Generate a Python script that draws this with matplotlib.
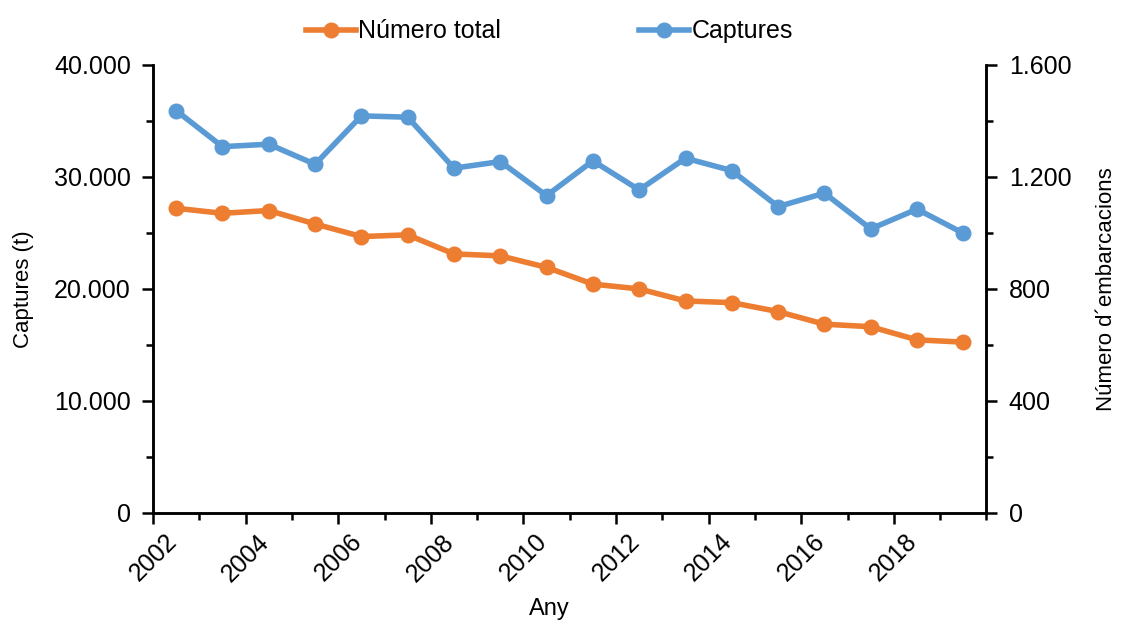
import numpy as np
import matplotlib
matplotlib.use("Agg")
import matplotlib.pyplot as plt
from matplotlib.ticker import FuncFormatter, MultipleLocator

years = list(range(2002, 2020))
captures = [35920, 32700, 32920, 31130, 35450, 35330, 30780, 31370, 28330,
            31430, 28840, 31670, 30560, 27350, 28550, 25360, 27120, 24970]
num_total = [1088, 1070, 1080, 1032, 987, 993, 925, 918, 877,
             817, 800, 757, 751, 719, 674, 665, 618, 610]
tick_years = list(range(2002, 2019, 2))

plt.rcParams['font.family'] = ['Liberation Sans', 'DejaVu Sans']

orange = '#ED7D31'
blue = '#5B9BD5'

def dot_thousands(v, pos):
    return f"{int(round(v)):,}".replace(",", ".")

fig = plt.figure(figsize=(11.21, 6.24), dpi=100)
ax = fig.add_axes([0.1365, 0.178, 0.7435, 0.718])
ax2 = ax.twinx()

x = np.array(years) + 0.5
l2, = ax2.plot(x, num_total, color=orange, lw=4, marker='o', ms=10.5, label='Número total')
l1, = ax.plot(x, captures, color=blue, lw=4, marker='o', ms=10.5, label='Captures')

ax.set_xlim(2002, 2020)
ax.set_ylim(0, 40000)
ax2.set_ylim(0, 1600)
ax.yaxis.set_major_locator(MultipleLocator(10000))
ax.yaxis.set_minor_locator(MultipleLocator(5000))
ax2.yaxis.set_major_locator(MultipleLocator(400))
ax2.yaxis.set_minor_locator(MultipleLocator(200))
ax.yaxis.set_major_formatter(FuncFormatter(dot_thousands))
ax2.yaxis.set_major_formatter(FuncFormatter(dot_thousands))

ax.set_xticks(tick_years)
ax.set_xticklabels([str(y) for y in tick_years], rotation=45, ha='center', va='top')
ax.set_xticks(range(2002, 2021), minor=True)

for a in (ax, ax2):
    a.spines['top'].set_visible(False)
    for s in a.spines.values():
        s.set_linewidth(1.8)
    a.tick_params(axis='both', which='major', length=8, width=1.8, labelsize=18)
    a.tick_params(axis='both', which='minor', length=5, width=1.8)
ax.tick_params(axis='x', which='major', pad=4)
ax.tick_params(axis='y', which='both', pad=8)
ax2.tick_params(axis='y', which='both', pad=8)

ax.set_xlabel('Any', fontsize=17, labelpad=4)
ax.xaxis.set_label_coords(0.476, -0.19)
ax.set_ylabel('Captures (t)', fontsize=16, labelpad=14)
ax2.set_ylabel('Número d´embarcacions', fontsize=16, labelpad=18)

fig.legend(handles=[l2, l1], loc='upper center', bbox_to_anchor=(0.49, 1.005),
           ncol=2, frameon=False, fontsize=18, handlelength=2.0,
           handletextpad=0.1, columnspacing=5.5)

fig.savefig('out.png', dpi=100)
